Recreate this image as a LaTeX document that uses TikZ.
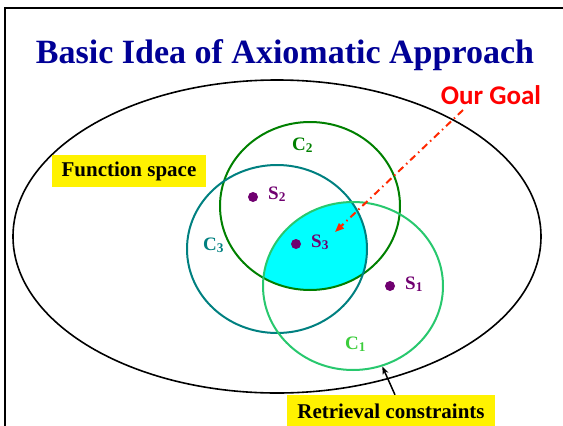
\documentclass[tikz,border=0pt]{standalone}
\usepackage{fontspec}
\setmainfont{Liberation Serif}
\newfontfamily\goalfont{Carlito}
\usetikzlibrary{arrows.meta,positioning,shapes.geometric}

\definecolor{titleblue}{RGB}{0,0,150}
\definecolor{ctwo}{RGB}{0,128,0}
\definecolor{cthree}{RGB}{0,128,128}
\definecolor{cone}{RGB}{40,200,110}
\definecolor{conelab}{RGB}{60,205,60}
\definecolor{spurple}{RGB}{112,0,112}
\definecolor{goalred}{RGB}{255,40,0}
\definecolor{common}{RGB}{0,255,255}

\tikzset{
  region/.style={ellipse,draw,line width=2pt,inner sep=0pt,minimum width=180pt,minimum height=168pt},
  dot/.style={circle,fill=spurple,inner sep=0pt,minimum size=10pt},
  slabel/.style={text=spurple,font=\fontsize{19}{21}\selectfont\bfseries,inner sep=0pt,anchor=base west},
  clabel/.style={font=\fontsize{19}{21}\selectfont\bfseries,inner sep=0pt,anchor=base west},
  tag/.style={fill=yellow,font=\fontsize{21}{24}\selectfont\bfseries,inner sep=0pt}
}

\begin{document}
\begin{tikzpicture}[x=1pt,y=-1pt]
\useasboundingbox (0,0) rectangle (563,426);
% slide frame
\draw[line width=2.5pt] (5,430) -- (5,8) -- (570,8);
% title
\node[text=titleblue,anchor=base,font=\fontsize{34}{40}\selectfont\bfseries] (title) at (285,63) {Basic Idea of Axiomatic Approach};
% function space
\node[ellipse,draw,line width=1.6pt,minimum width=528pt,minimum height=313pt] (space) at (277,236.5) {};
\node[tag,minimum width=154pt,minimum height=32pt] (fspace) at (129,171) {Function space};
% common part of the three constraints
\coordinate (o1) at (353,286);
\coordinate (o2) at (310,206);
\coordinate (o3) at (277,249);
\begin{scope}
\clip (o1) ellipse [x radius=90pt,y radius=84pt];
\clip (o2) ellipse [x radius=90pt,y radius=84pt];
\fill[common] (o3) ellipse [x radius=90pt,y radius=84pt];
\end{scope}
\node[region,draw=ctwo] (c2) at (o2) {};
\node[region,draw=cthree] (c3) at (o3) {};
\node[region,draw=cone] (c1) at (o1) {};
\node[clabel,text=ctwo] (c2lab) at (292,150) {C\textsubscript{2}};
\node[clabel,text=cthree] (c3lab) at (203,250) {C\textsubscript{3}};
\node[clabel,text=conelab] (c1lab) at (345,349) {C\textsubscript{1}};
% solutions
\node[dot] (s2) at (253,197) {};
\node[dot] (s3) at (296,244) {};
\node[dot] (s1) at (390,286) {};
\node[slabel] (s2lab) at (268,199) {S\textsubscript{2}};
\node[slabel] (s3lab) at (311,247) {S\textsubscript{3}};
\node[slabel] (s1lab) at (405,289) {S\textsubscript{1}};
% goal
\node[text=red,font=\fontsize{27}{30}\selectfont\goalfont\bfseries,inner sep=0pt] (goal) at (491,95) {Our Goal};
\coordinate (goaltail) at (463,110);
\coordinate (goaltip) at (335,232);
\draw[goalred,line width=2pt,dash pattern=on 7pt off 4pt on 1.5pt off 4pt,-{Triangle[length=9pt,width=7pt]}] (goaltail) -- (goaltip);
% constraints
\node[tag,minimum width=208pt,minimum height=32pt] (ret) at (391,411) {Retrieval constraints};
\draw[line width=1.5pt,-{Stealth[length=8pt,width=6pt]}] ([xshift=4pt]ret.north) -- (c1.-70);
\end{tikzpicture}
\end{document}
